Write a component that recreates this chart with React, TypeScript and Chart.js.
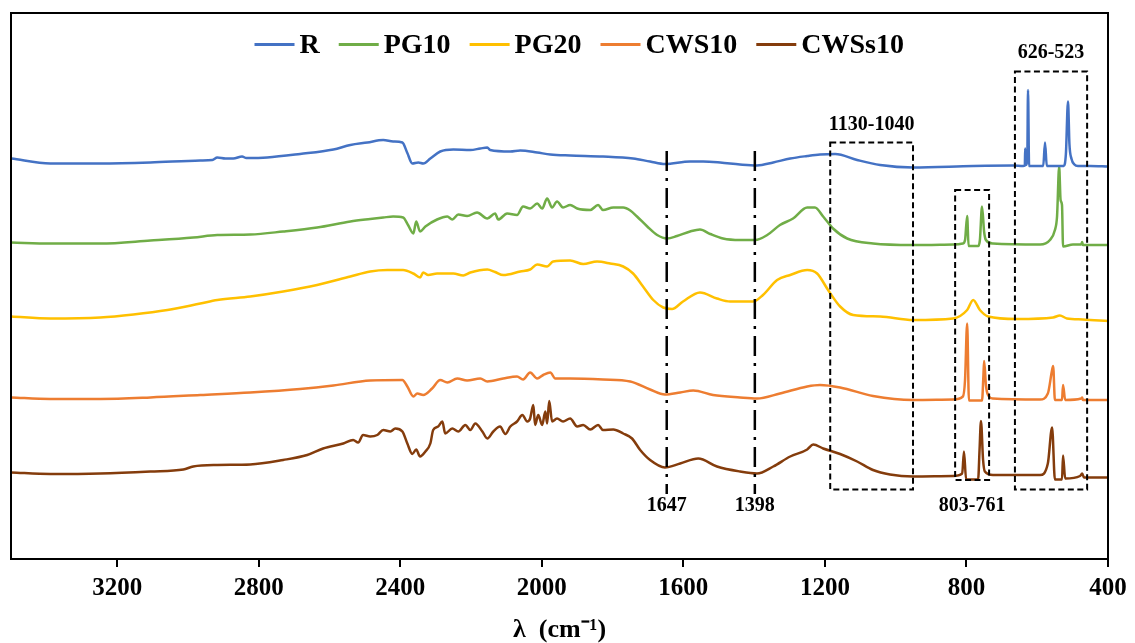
import React, { useEffect, useRef } from "react";
import { Chart, registerables } from "chart.js";

Chart.register(...registerables);

// ---------- data (wavenumber cm-1, relative absorbance a.u., series vertically offset) ----------
const SERIES_NAMES = ["R", "PG10", "PG20", "CWS10", "CWSs10"];
const SERIES_COLORS = ["#4472C4", "#70AD47", "#FFC000", "#ED7D31", "#843C0C"];
const X_TICKS = [3200, 2800, 2400, 2000, 1600, 1200, 800, 400];
const X_TITLE = "λ  (cm⁻¹)";

const R_DATA: [number, number][] = [
  [3499, 80.1], [3389, 79.1], [3248, 79.1], [3106, 79.3], [2965, 79.7], [2931, 79.8], [2917, 80.3], [2894, 80.1],
  [2872, 80.1], [2847, 80.5], [2835, 80.2], [2776, 80.3], [2683, 81.0], [2589, 81.9], [2541, 82.8], [2493, 83.3],
  [2448, 83.8], [2420, 83.5], [2394, 83.3], [2380, 81.2], [2366, 79.1], [2349, 79.3], [2335, 79.1], [2315, 80.1],
  [2287, 81.5], [2250, 81.9], [2202, 81.8], [2174, 82.1], [2154, 82.3], [2146, 81.8], [2089, 81.5], [2061, 81.7],
  [2013, 81.3], [1976, 80.9], [1920, 80.7], [1827, 80.5], [1742, 80.1], [1694, 79.5], [1652, 79.0], [1581, 79.5],
  [1544, 79.5], [1496, 79.3], [1440, 78.9], [1392, 78.7], [1346, 79.3], [1298, 80.1], [1250, 80.6], [1214, 80.9],
  [1171, 81.0], [1109, 79.8], [1044, 78.8], [951, 78.3], [781, 78.6], [668, 78.7], [640, 78.6], [635, 78.7],
  [634, 82.1], [632, 78.8], [628, 80.5], [626, 93.8], [623, 78.6], [583, 78.6], [578, 83.3], [573, 78.6],
  [525, 78.6], [519, 81.0], [513, 91.5], [509, 83.0], [503, 80.0], [495, 78.9], [485, 78.6], [450, 78.6], [400, 78.5],
];

const PG10_DATA: [number, number][] = [
  [3499, 63.3], [3389, 63.1], [3248, 63.1], [3106, 63.7], [2985, 64.3], [2917, 64.8], [2824, 64.9], [2731, 65.5],
  [2635, 66.3], [2541, 67.5], [2485, 68.0], [2448, 68.3], [2420, 68.5], [2392, 68.3], [2378, 66.8], [2363, 65.1],
  [2355, 67.5], [2344, 65.5], [2329, 66.5], [2296, 67.9], [2267, 68.5], [2253, 67.9], [2236, 68.9], [2211, 68.6],
  [2183, 69.3], [2154, 68.1], [2132, 69.1], [2123, 67.9], [2098, 69.1], [2070, 68.8], [2053, 70.5], [2033, 70.1],
  [2013, 71.1], [1999, 70.1], [1985, 72.1], [1971, 70.3], [1957, 71.5], [1940, 70.3], [1920, 70.8], [1900, 70.1],
  [1863, 69.8], [1841, 70.8], [1827, 69.8], [1798, 70.3], [1770, 70.3], [1750, 69.7], [1731, 68.5], [1702, 66.5],
  [1674, 64.8], [1646, 64.1], [1618, 64.6], [1581, 65.5], [1553, 65.9], [1524, 65.0], [1488, 64.1], [1440, 63.8],
  [1397, 63.8], [1363, 64.8], [1327, 66.8], [1290, 68.1], [1250, 70.3], [1228, 70.3], [1205, 68.5], [1177, 66.1],
  [1137, 64.1], [1064, 63.1], [951, 62.8], [838, 62.9], [810, 63.1], [804, 63.8], [798, 68.6], [794, 62.6],
  [767, 62.6], [762, 63.8], [756, 70.5], [750, 65.4], [745, 63.8], [725, 63.1], [592, 62.9], [564, 63.8],
  [550, 65.8], [544, 68.5], [538, 78.5], [534, 71.8], [530, 70.8], [527, 62.5], [499, 62.9], [476, 62.9],
  [473, 63.4], [471, 62.8], [400, 62.8],
];

const PG20_DATA: [number, number][] = [
  [3499, 48.5], [3389, 48.1], [3248, 48.3], [3154, 48.9], [3058, 49.8], [2965, 51.1], [2917, 51.8], [2824, 52.5],
  [2731, 53.5], [2635, 54.8], [2541, 56.5], [2485, 57.5], [2437, 57.8], [2392, 57.8], [2363, 57.1], [2344, 56.3],
  [2335, 57.3], [2321, 56.8], [2296, 57.1], [2250, 57.1], [2222, 56.7], [2202, 57.3], [2154, 57.9], [2132, 57.4],
  [2109, 56.8], [2061, 57.5], [2033, 57.9], [2013, 58.9], [1985, 58.5], [1968, 59.5], [1920, 59.7], [1883, 59.0],
  [1844, 59.5], [1807, 59.1], [1770, 58.5], [1742, 57.1], [1714, 54.5], [1685, 51.8], [1657, 50.3], [1632, 50.0],
  [1601, 51.5], [1553, 53.3], [1505, 52.1], [1468, 51.5], [1403, 51.5], [1375, 52.8], [1335, 55.8], [1298, 56.8],
  [1250, 57.8], [1222, 57.1], [1191, 53.8], [1157, 50.5], [1120, 48.8], [1044, 48.5], [951, 47.8], [838, 48.1],
  [798, 49.8], [781, 51.8], [762, 49.8], [739, 48.5], [657, 48.0], [555, 48.3], [536, 48.7], [516, 48.1],
  [471, 47.9], [400, 47.6],
];

const CWS10_DATA: [number, number][] = [
  [3499, 32.3], [3389, 32.0], [3248, 32.0], [3106, 32.3], [2965, 32.8], [2824, 33.3], [2683, 34.0], [2589, 34.7],
  [2485, 35.7], [2394, 35.8], [2380, 34.5], [2363, 32.5], [2352, 33.1], [2335, 32.8], [2310, 34.1], [2287, 35.8],
  [2267, 35.3], [2239, 36.1], [2211, 35.7], [2174, 36.1], [2154, 35.5], [2109, 36.1], [2070, 36.5], [2053, 35.9],
  [2033, 37.3], [2013, 36.1], [1996, 36.8], [1976, 37.3], [1962, 36.1], [1920, 36.1], [1827, 35.9], [1750, 35.5],
  [1694, 33.9], [1652, 32.9], [1609, 33.3], [1572, 33.7], [1516, 32.8], [1440, 32.3], [1392, 32.1], [1327, 33.1],
  [1250, 34.5], [1214, 34.8], [1157, 34.3], [1064, 32.6], [951, 31.8], [838, 31.9], [810, 32.5], [804, 35.8],
  [798, 47.1], [793, 31.7], [756, 31.7], [752, 36.8], [750, 39.6], [745, 34.8], [739, 32.8], [725, 32.1],
  [592, 31.9], [570, 33.1], [558, 37.8], [555, 38.6], [550, 31.8], [530, 31.8], [527, 34.8], [521, 31.8],
  [476, 32.1], [473, 32.3], [471, 31.8], [400, 31.8],
];

const CWSS10_DATA: [number, number][] = [
  [3499, 17.3], [3389, 17.0], [3248, 17.1], [3106, 17.5], [3013, 17.9], [2985, 18.5], [2917, 18.8], [2824, 18.9],
  [2731, 19.8], [2663, 20.8], [2618, 22.1], [2561, 23.1], [2533, 23.8], [2519, 23.3], [2505, 24.8], [2485, 24.5],
  [2465, 24.8], [2448, 25.8], [2428, 25.5], [2414, 26.1], [2394, 25.5], [2380, 23.1], [2366, 21.0], [2355, 21.9],
  [2344, 20.5], [2329, 21.5], [2315, 23.1], [2307, 25.8], [2293, 26.5], [2281, 27.5], [2273, 25.1], [2253, 26.1],
  [2236, 25.5], [2216, 26.8], [2202, 25.8], [2188, 27.1], [2168, 25.5], [2154, 24.1], [2137, 25.5], [2118, 26.5],
  [2103, 25.0], [2089, 26.5], [2070, 27.5], [2055, 28.8], [2041, 27.5], [2033, 28.1], [2024, 30.8], [2019, 26.8],
  [2010, 28.8], [1999, 26.8], [1990, 29.5], [1985, 27.1], [1979, 31.6], [1971, 27.5], [1957, 28.1], [1940, 27.5],
  [1920, 28.1], [1900, 26.5], [1883, 26.8], [1863, 25.9], [1841, 26.8], [1827, 25.8], [1798, 25.9], [1770, 25.1],
  [1745, 24.1], [1722, 21.8], [1694, 19.8], [1652, 18.3], [1609, 19.1], [1558, 20.1], [1505, 18.5], [1440, 17.5],
  [1392, 17.1], [1346, 18.5], [1298, 20.5], [1250, 21.9], [1233, 22.9], [1205, 22.1], [1157, 21.0], [1109, 19.5],
  [1064, 17.8], [1016, 16.9], [951, 16.5], [838, 16.6], [812, 17.1], [807, 21.5], [801, 15.9], [767, 15.9],
  [763, 21.8], [759, 27.6], [753, 19.8], [748, 17.5], [725, 16.8], [592, 16.8], [570, 19.1], [558, 26.3],
  [550, 15.9], [530, 15.9], [527, 20.7], [521, 16.1], [479, 16.6], [473, 17.1], [468, 16.3], [400, 16.3],
];

const SERIES_DATA = [R_DATA, PG10_DATA, PG20_DATA, CWS10_DATA, CWSS10_DATA];

// marked wavenumbers (dash-dot lines) and marked bands (dashed boxes)
const MARK_LINES = [1647, 1398];
const MARK_BANDS = ["1130-1040", "803-761", "626-523"];

// ---------- annotation geometry (data units) ----------
const LINE_SPAN = { yTop: 81.6, yBottom: 13.0, labelY: 10.6 };
const BAND_BOXES = [
  { from: 1185, to: 951, yTop: 83.3, yBottom: 13.9, labelY: 86.8 },
  { from: 832, to: 736, yTop: 73.8, yBottom: 15.8, labelY: 10.6 },
  { from: 663, to: 459, yTop: 97.5, yBottom: 13.9, labelY: 101.2 },
];

const FONT = "'Liberation Serif', 'Times New Roman', serif";

const framePlugin = {
  id: "frame",
  afterDraw(chart: any) {
    const { ctx, chartArea: a } = chart;
    ctx.save();
    ctx.strokeStyle = "#000";
    ctx.lineWidth = 2;
    ctx.strokeRect(a.left, a.top, a.right - a.left, a.bottom - a.top);
    ctx.restore();
  },
};

const annotationPlugin = {
  id: "ftirMarks",
  afterDatasetsDraw(chart: any) {
    const { ctx } = chart;
    const xs = chart.scales.x;
    const ys = chart.scales.y;
    ctx.save();
    ctx.strokeStyle = "#000";
    ctx.fillStyle = "#000";
    ctx.font = `bold 20px ${FONT}`;
    ctx.textAlign = "center";
    ctx.textBaseline = "middle";
    MARK_LINES.forEach((wn) => {
      const px = xs.getPixelForValue(wn);
      ctx.lineWidth = 2.5;
      ctx.setLineDash([20, 7, 3, 7]);
      ctx.beginPath();
      ctx.moveTo(px, ys.getPixelForValue(LINE_SPAN.yTop));
      ctx.lineTo(px, ys.getPixelForValue(LINE_SPAN.yBottom));
      ctx.stroke();
      ctx.setLineDash([]);
      ctx.fillText(String(wn), px, ys.getPixelForValue(LINE_SPAN.labelY));
    });
    BAND_BOXES.forEach((b, i) => {
      const x1 = xs.getPixelForValue(b.from);
      const x2 = xs.getPixelForValue(b.to);
      const y1 = ys.getPixelForValue(b.yTop);
      const y2 = ys.getPixelForValue(b.yBottom);
      ctx.lineWidth = 2;
      ctx.setLineDash([6, 3.5]);
      ctx.strokeRect(x1, y1, x2 - x1, y2 - y1);
      ctx.setLineDash([]);
      ctx.fillText(MARK_BANDS[i], (x1 + x2) / 2, ys.getPixelForValue(b.labelY));
    });
    ctx.restore();
  },
};

const legendPlugin = {
  id: "insideLegend",
  afterDraw(chart: any) {
    const { ctx, chartArea: a } = chart;
    ctx.save();
    ctx.font = `bold 28px ${FONT}`;
    ctx.textBaseline = "middle";
    ctx.textAlign = "left";
    const LINE = 40, GAP = 5, SEP = 19;
    const items = chart.data.datasets.map((d: any) => ({
      label: d.label,
      color: d.borderColor,
      w: ctx.measureText(d.label).width,
    }));
    const total = items.reduce((s: number, it: any) => s + LINE + GAP + it.w, 0) + SEP * (items.length - 1);
    let x = a.left + (a.right - a.left) * 0.518 - total / 2;
    const y = a.top + 31.5;
    items.forEach((it: any) => {
      ctx.strokeStyle = it.color;
      ctx.lineWidth = 3;
      ctx.beginPath();
      ctx.moveTo(x, y);
      ctx.lineTo(x + LINE, y);
      ctx.stroke();
      ctx.fillStyle = "#000";
      ctx.fillText(it.label, x + LINE + GAP, y + 1);
      x += LINE + GAP + it.w + SEP;
    });
    ctx.restore();
  },
};

export default function App() {
  const ref = useRef<HTMLCanvasElement>(null);

  useEffect(() => {
    const canvas = ref.current;
    if (!canvas) return;
    const chart = new Chart(canvas, {
      type: "line",
      data: {
        datasets: SERIES_DATA.map((series, i) => ({
          label: SERIES_NAMES[i],
          data: series.map(([x, y]) => ({ x, y })),
          borderColor: SERIES_COLORS[i],
          backgroundColor: SERIES_COLORS[i],
          borderWidth: 2.5,
          pointRadius: 0,
          cubicInterpolationMode: "monotone",
          fill: false,
        })),
      },
      options: {
        responsive: false,
        animation: false,
        events: [],
        layout: { padding: { left: 11, top: 13, right: 27, bottom: 0 } },
        plugins: { legend: { display: false }, tooltip: { enabled: false } },
        scales: {
          x: {
            type: "linear",
            reverse: true,
            min: 400,
            max: 3500,
            afterBuildTicks: (s: any) => {
              s.ticks = X_TICKS.map((v) => ({ value: v }));
            },
            afterFit: (s: any) => {
              s.height = 84;
              s.paddingLeft = 0;
              s.paddingRight = 0;
            },
            grid: {
              display: true,
              drawOnChartArea: false,
              drawTicks: true,
              tickLength: 8,
              color: "#000",
              lineWidth: 2,
            },
            border: { display: true, color: "#000", width: 2 },
            ticks: {
              color: "#000",
              autoSkip: false,
              maxRotation: 0,
              padding: 7,
              font: { family: FONT, size: 25, weight: "bold" },
              callback: (v: any) => String(v),
            },
            title: {
              display: true,
              text: X_TITLE,
              color: "#000",
              font: { family: FONT, size: 26, weight: "bold", lineHeight: 1 },
              padding: { top: 0, bottom: 0 },
            },
          },
          y: { display: false, min: 0, max: 109.2 },
        },
      } as any,
      plugins: [framePlugin, annotationPlugin, legendPlugin],
    });
    return () => chart.destroy();
  }, []);

  return (
    <div style={{ position: "absolute", left: 0, top: 0, width: 1135, height: 643, background: "#fff" }}>
      <canvas ref={ref} width={1135} height={643} />
    </div>
  );
}
